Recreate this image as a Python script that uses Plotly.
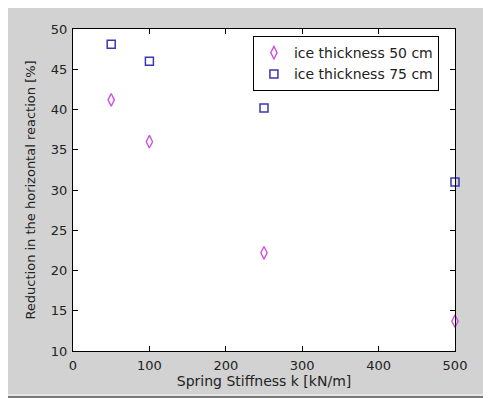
import plotly.graph_objects as go

stiffness = [50, 100, 250, 500]
ice50 = [41.2, 36.0, 22.2, 13.7]
ice75 = [48.1, 46.0, 40.2, 31.0]
names = ["ice thickness 50 cm", "ice thickness 75 cm"]
xticks = [0, 100, 200, 300, 400, 500]
yticks = [10, 15, 20, 25, 30, 35, 40, 45, 50]

FONT = "DejaVu Sans"
TXT = "#222222"

fig = go.Figure()
fig.add_trace(go.Scatter(x=stiffness, y=ice50, mode="markers", name=names[0],
                         marker=dict(symbol="diamond-tall-open", size=9, color="#d050e0",
                                     line=dict(width=1.4, color="#d050e0")),
                         cliponaxis=False))
fig.add_trace(go.Scatter(x=stiffness, y=ice75, mode="markers", name=names[1],
                         marker=dict(symbol="square-open", size=8, color="#3838b0",
                                     line=dict(width=1.5, color="#3838b0")),
                         cliponaxis=False))

axis_common = dict(showline=True, linecolor="black", linewidth=1, mirror="ticks",
                   ticks="inside", ticklen=5, tickcolor="black", showgrid=False,
                   zeroline=False, ticklabelstandoff=2,
                   tickfont=dict(family=FONT, size=13, color=TXT))
fig.update_xaxes(range=[0, 500], tickvals=xticks,
                 title=dict(text="Spring Stiffness k [kN/m]", standoff=4,
                            font=dict(family=FONT, size=14, color=TXT)),
                 **axis_common)
fig.update_yaxes(range=[10, 50], tickvals=yticks,
                 title=dict(text="Reduction in the horizontal reaction [%]", standoff=12,
                            font=dict(family=FONT, size=13, color=TXT)),
                 **axis_common)

fig.update_layout(
    width=483, height=390,
    margin=dict(l=65, r=36, t=21, b=47, autoexpand=False),
    paper_bgcolor="#d2d2d2", plot_bgcolor="white",
    showlegend=True,
    legend=dict(x=0.471, y=0.978, xanchor="left", yanchor="top",
                bgcolor="white", bordercolor="black", borderwidth=1,
                font=dict(family=FONT, size=14, color=TXT),
                tracegroupgap=0, itemsizing="trace"),
    shapes=[
        dict(type="rect", xref="paper", yref="paper", x0=-0.3, x1=1.3, y0=-0.2, y1=-0.1398,
             fillcolor="#7a7a7a", line=dict(width=0), layer="below"),
        dict(type="rect", xref="paper", yref="paper", x0=-0.3, x1=1.3, y0=-0.1398, y1=-0.1336,
             fillcolor="#e6e6e6", line=dict(width=0), layer="below"),
    ],
)
fig.write_html("out.html")
